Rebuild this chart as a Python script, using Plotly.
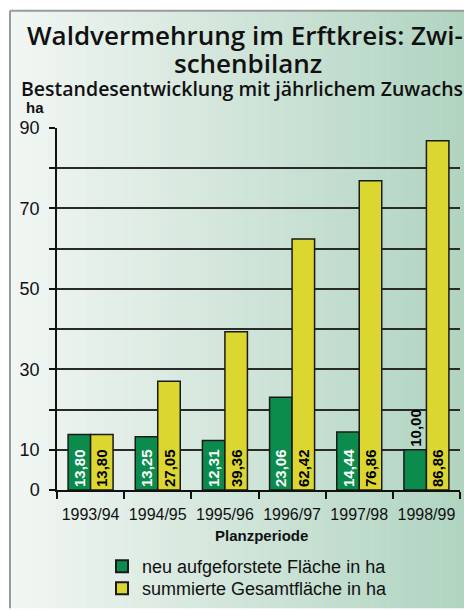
import plotly.graph_objects as go

# ---- data ----
categories = ["1993/94", "1994/95", "1995/96", "1996/97", "1997/98", "1998/99"]
neu_values = [13.80, 13.25, 12.31, 23.06, 14.44, 10.00]
summe_values = [13.80, 27.05, 39.36, 62.42, 76.86, 86.86]
neu_name = "neu aufgeforstete Fläche in ha"
summe_name = "summierte Gesamtfläche in ha"
y_tickvals = [0, 10, 20, 30, 40, 50, 60, 70, 80, 90]
y_ticktext = ["0", "10", "", "30", "", "50", "", "70", "", "90"]
title_lines = ["Waldvermehrung im Erftkreis: Zwi-", "schenbilanz"]
subtitle = "Bestandesentwicklung mit jährlichem Zuwachs"

W, H = 464, 611
L, R, T, B = 57, 4, 128, 119
PW = W - L - R
PH = H - T - B


def px(x):
    return (x - L) / PW


def py(y):
    return (H - B - y) / PH


def fmt(v):
    return f"{v:.2f}".replace(".", ",")


GREEN = "#0b8c4c"
YELLOW = "#dcd631"
FONT = "Liberation Sans"
TFONT = "Open Sans"

neu_pos = ["inside" if v > 11 else "outside" for v in neu_values]
neu_col = ["white" if p == "inside" else "black" for p in neu_pos]

fig = go.Figure()
fig.add_trace(go.Bar(
    x=categories, y=neu_values, name=neu_name, legend="legend",
    marker=dict(color=GREEN, line=dict(color="#1a1a1a", width=1.5)),
    text=[fmt(v) for v in neu_values], textposition=neu_pos,
    textangle=-90, insidetextanchor="start", constraintext="none",
    textfont=dict(family=FONT, size=15, color=neu_col, weight="bold"),
    cliponaxis=False, hoverinfo="skip",
))
fig.add_trace(go.Bar(
    x=categories, y=summe_values, name=summe_name, legend="legend2",
    marker=dict(color=YELLOW, line=dict(color="#1a1a1a", width=1.5)),
    text=[fmt(v) for v in summe_values], textposition="inside",
    textangle=-90, insidetextanchor="start", constraintext="none",
    textfont=dict(family=FONT, size=15, color="black", weight="bold"),
    hoverinfo="skip",
))

# background gradient (decoration)
shapes = []
c0 = (0xf2, 0xf6, 0xf3)
c1 = (0xb0, 0xd4, 0xc1)
x0p, x1p = 10, 464
n = 60
for i in range(n):
    a = x0p + (x1p - x0p) * i / n
    b = x0p + (x1p - x0p) * (i + 1) / n
    t = (i + 0.5) / n
    col = "rgb(%d,%d,%d)" % tuple(round(c0[k] + (c1[k] - c0[k]) * t) for k in range(3))
    shapes.append(dict(type="rect", xref="paper", yref="paper",
                       x0=px(a), x1=px(b + 0.5), y0=py(H), y1=py(10),
                       fillcolor=col, line=dict(width=0), layer="below"))
# frame lines
shapes.append(dict(type="line", xref="paper", yref="paper", x0=px(10), x1=px(W), y0=py(10), y1=py(10),
                   line=dict(color="#9a9a9a", width=2), layer="below"))
shapes.append(dict(type="line", xref="paper", yref="paper", x0=px(10), x1=px(10), y0=py(10), y1=py(H),
                   line=dict(color="#9a9a9a", width=2), layer="below"))

annotations = [
    dict(text=title_lines[0], x=px(25), y=py(34),
         xref="paper", yref="paper", xanchor="left", yanchor="middle", showarrow=False,
         font=dict(family=TFONT, size=26, color="#111", weight=600)),
    dict(text=title_lines[1], x=px(172), y=py(63),
         xref="paper", yref="paper", xanchor="left", yanchor="middle", showarrow=False,
         font=dict(family=TFONT, size=26, color="#111", weight=600)),
    dict(text=subtitle, x=px(19), y=py(88),
         xref="paper", yref="paper", xanchor="left", yanchor="middle", showarrow=False,
         font=dict(family=TFONT, size=19.5, color="#111", weight=600)),
    dict(text="<b>ha</b>", x=px(24), y=py(107),
         xref="paper", yref="paper", xanchor="left", yanchor="middle", showarrow=False,
         font=dict(family=FONT, size=15, color="#111")),
    dict(text="<b>Planzperiode</b>", x=px(261), y=py(538),
         xref="paper", yref="paper", xanchor="center", yanchor="middle", showarrow=False,
         font=dict(family=FONT, size=15, color="#111")),
]

legend_common = dict(xanchor="left", yanchor="middle", bgcolor="rgba(0,0,0,0)",
                     font=dict(family=FONT, size=18, color="#111"), itemsizing="constant")

fig.update_layout(
    width=W, height=H,
    margin=dict(l=L, r=R, t=T, b=B, pad=0),
    paper_bgcolor="white", plot_bgcolor="rgba(0,0,0,0)",
    barmode="group", bargap=0.33, bargroupgap=0,
    font=dict(family=FONT, color="#111"),
    shapes=shapes, annotations=annotations,
    showlegend=True,
    legend=dict(x=px(102), y=py(569), **legend_common),
    legend2=dict(x=px(102), y=py(591), **legend_common),
)
fig.update_xaxes(
    showgrid=False, showline=True, linecolor="#111", linewidth=2,
    ticks="outside", tickson="boundaries", ticklen=7, tickwidth=1.5, tickcolor="#111",
    tickangle=0,
    tickfont=dict(family=FONT, size=16, color="#111"), ticklabelstandoff=9, fixedrange=True,
)
fig.update_yaxes(
    range=[0, 90], tickvals=y_tickvals, ticktext=y_ticktext,
    showgrid=True, gridcolor="#2a2a2a", gridwidth=1.5,
    showline=True, linecolor="#111", linewidth=1.5, zeroline=False,
    ticks="outside", ticklen=6, tickwidth=1.5, tickcolor="#111",
    tickfont=dict(family=FONT, size=18, color="#111"), ticklabelstandoff=6, fixedrange=True,
)

fig.write_html(
    "out.html",
    config={"displayModeBar": False},
    post_script="document.body.style.margin='0';document.body.style.padding='0';"
                "document.documentElement.style.overflow='hidden';",
)
